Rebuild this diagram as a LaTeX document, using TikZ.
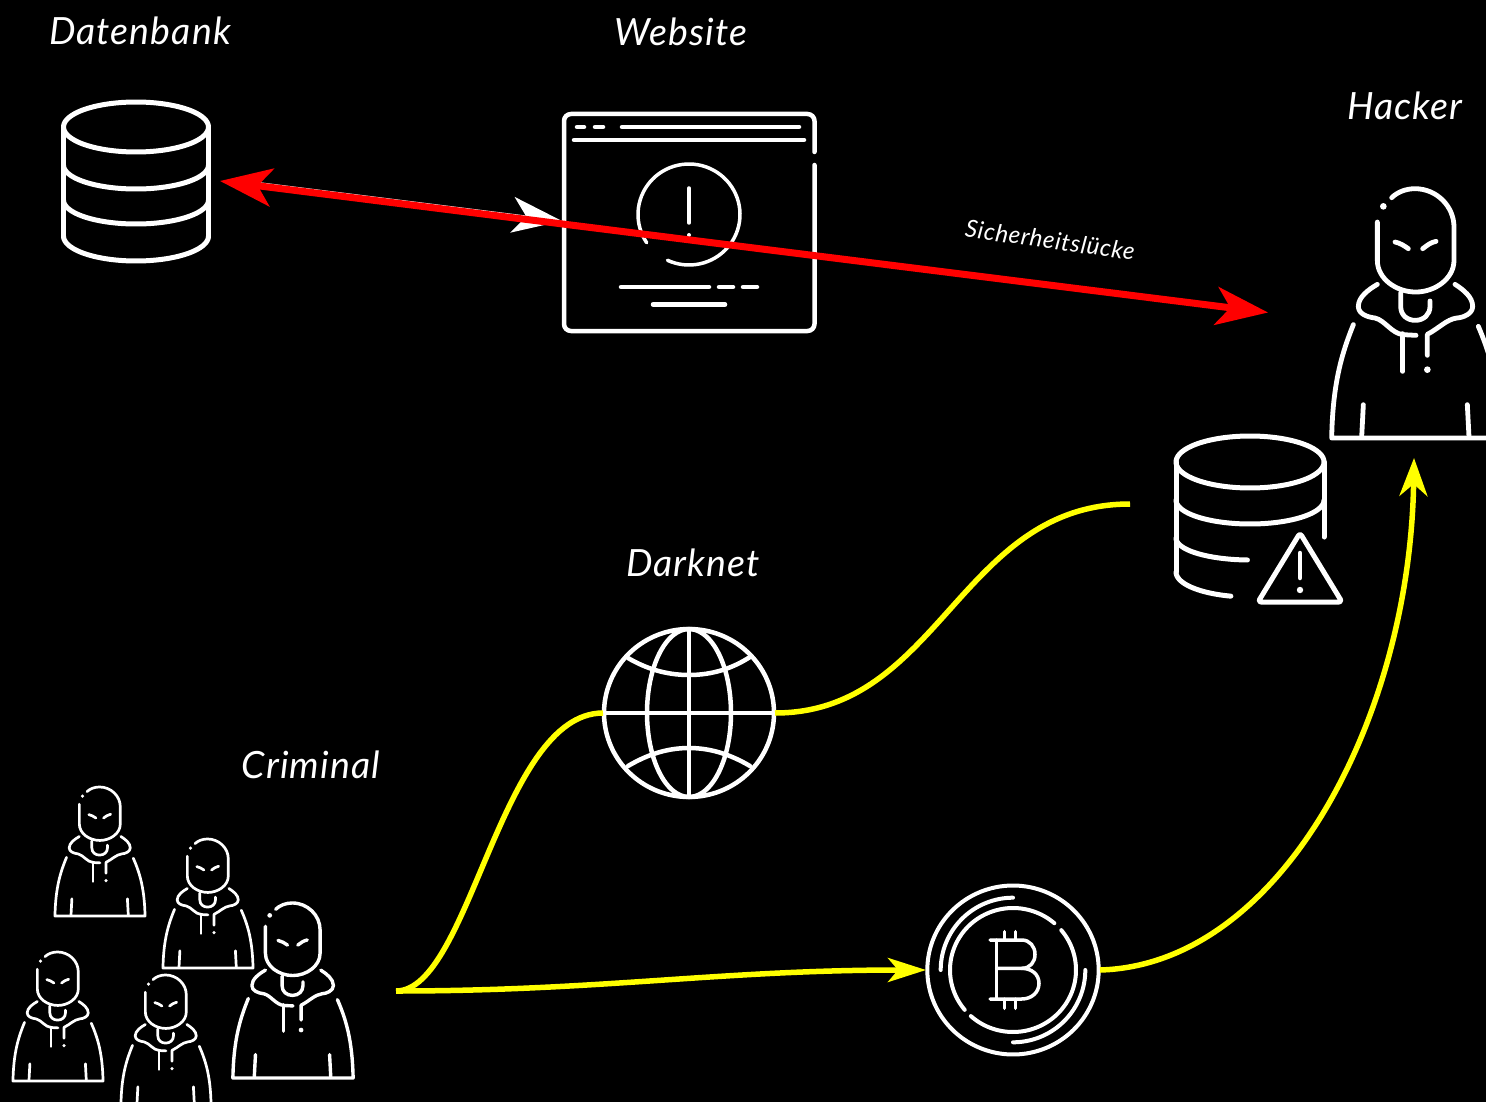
\documentclass[tikz,border=0pt]{standalone}
\usepackage{fontspec}
\setmainfont{Lato}
\newfontfamily\hand[LetterSpace=3]{Lato Italic}
\usetikzlibrary{arrows.meta}
\definecolor{pureyellow}{RGB}{255,255,0}
\definecolor{purered}{RGB}{255,0,0}
\newcommand{\elarc}[6]{plot[domain=#5:#6,samples=72,smooth] ({#1+#3*cos(\x)},{#2+#4*sin(\x)})}
\tikzset{
  icon/.style={draw=white,line cap=round,line join=round,fill=none},
  ghost/.style={draw=none,fill=none,inner sep=0pt,outer sep=0pt},
  handlabel/.style={text=white,inner sep=0pt,font=\hand\fontsize{37.5}{40}\selectfont},
  yellowline/.style={draw=pureyellow,line width=5.5pt,line cap=butt},
  yellowhead/.style={-{Stealth[length=38pt,width=28pt,inset=12pt]}},
}
\newcommand{\person}[5]{%
  \begin{scope}[shift={(#1,#2)},xscale=#3,yscale=#4,shift={(-288,-803)}]
    \draw[icon,line width=#5]
      (215,82) .. controls (232,65) and (258,55) .. (285,55)
      .. controls (350,55) and (402,108) .. (402,170) -- (402,270)
      .. controls (402,325) and (345,365) .. (287,365)
      .. controls (228,365) and (172,325) .. (172,270) -- (172,155);
    \fill[white] (190,108) circle[radius=10];
    \draw[icon,line width=#5] (225,215) .. controls (240,218) and (252,226) .. (265,235);
    \draw[icon,line width=#5] (348,213) .. controls (332,216) and (320,226) .. (308,235);
    \draw[icon,line width=#5]
      (172,342) .. controls (145,358) and (115,380) .. (115,408)
      .. controls (115,430) and (140,440) .. (165,443)
      .. controls (195,450) and (215,490) .. (250,493) -- (288,495);
    \draw[icon,line width=#5]
      (405,342) .. controls (430,358) and (458,380) .. (458,408)
      .. controls (458,430) and (430,442) .. (410,443)
      .. controls (380,447) and (355,475) .. (322,492) -- (322,555);
    \draw[icon,line width=#5] (248,490) -- (248,603);
    \fill[white] (322,598) circle[radius=10];
    \draw[icon,line width=#5] (242,368) -- (242,408)
      .. controls (242,435) and (262,450) .. (286,450)
      .. controls (312,450) and (330,432) .. (330,408) -- (330,392);
    \draw[icon,line width=#5] (100,463) .. controls (65,550) and (38,640) .. (35,803) -- (541,803)
      .. controls (538,640) and (510,550) .. (475,468);
    \draw[icon,line width=#5] (130,703) -- (125,800);
    \draw[icon,line width=#5] (442,703) -- (447,800);
  \end{scope}}
\begin{document}
\begin{tikzpicture}[x=1pt,y=-1pt]
\clip (0,0) rectangle (1486,1102);
\fill[black] (0,0) rectangle (1486,1102);

% database
\draw[icon,line width=5pt] \elarc{136}{127}{72.5}{25}{0}{360};
\draw[icon,line width=5pt] (63.5,127) -- (63.5,236) (208.5,127) -- (208.5,236);
\draw[icon,line width=5pt] \elarc{136}{165}{72.5}{24}{0}{180};
\draw[icon,line width=5pt] \elarc{136}{200}{72.5}{24}{0}{180};
\draw[icon,line width=5pt] \elarc{136}{236}{72.5}{25}{0}{180};

% website
\draw[icon,line width=4.5pt,rounded corners=7pt] (814.5,152) -- (814.5,114) -- (564,114) -- (564,331) -- (814.5,331) -- (814.5,165);
\draw[icon,line width=4.5pt] (577,127) -- (584,127) (595,127) -- (603,127) (622,127) -- (799,127) (574,140) -- (804,140);
\draw[icon,line width=3.5pt] \elarc{689}{214.5}{51}{50.5}{146}{475};
\draw[icon,line width=3.5pt] (689,188) -- (689,223);
\fill[white] (689,235) circle[radius=2];
\draw[icon,line width=4.5pt] (621,287) -- (709,287) (719,287) -- (733,287) (743,287) -- (757,287) (653,304.5) -- (725,304.5);

% leaked database
\draw[icon,line width=5pt] \elarc{1250}{462}{74}{26}{0}{360};
\draw[icon,line width=5pt] (1176,462) -- (1176,572) (1324,462) -- (1324,537);
\draw[icon,line width=5pt] \elarc{1250}{500}{74}{24}{0}{180};
\draw[icon,line width=5pt] \elarc{1250}{538}{74}{22}{92}{180};
\draw[icon,line width=5pt] \elarc{1250}{572}{74}{25}{105}{180};
\draw[icon,line width=5pt,rounded corners=3pt] (1300,533) -- (1342,602) -- (1258,602) -- cycle;
\draw[icon,line width=4.5pt] (1300,553) -- (1300,578);
\fill[white] (1300,590) circle[radius=3.2];

% globe
\node[ghost,circle,minimum size=172pt] (globe) at (689,713) {};
\draw[icon,line width=4.5pt] \elarc{689}{713}{85}{84}{0}{360};
\draw[icon,line width=4.5pt] \elarc{689}{713}{42}{84}{0}{360};
\draw[icon,line width=4.5pt] (689,629) -- (689,797) (604,713) -- (774,713);
\draw[icon,line width=4.5pt] (628,658) .. controls (645,668) and (665,675) .. (689,675) .. controls (713,675) and (733,668) .. (750,657);
\draw[icon,line width=4.5pt] (628,766) .. controls (645,756) and (665,748) .. (689,748) .. controls (713,748) and (733,756) .. (750,766);

% bitcoin
\node[ghost,circle,minimum size=174pt] (btc) at (1013,970) {};
\draw[icon,line width=4pt] \elarc{1013}{970}{85.7}{84.5}{0}{360};
\draw[icon,line width=4pt] \elarc{1013}{970}{72.3}{72.3}{180}{270};
\draw[icon,line width=4pt] \elarc{1013}{970}{72.3}{72.3}{0}{90};
\draw[icon,line width=4pt] \elarc{1013}{970}{63}{62}{-40}{132};
\draw[icon,line width=4pt] \elarc{1013}{970}{63}{62}{140}{311};
\begin{scope}[shift={(915,875)},scale=1/3]
  \draw[icon,line width=3.5pt] (225,195) -- (320,195) .. controls (345,195) and (360,215) .. (360,238)
     .. controls (360,262) and (345,280) .. (320,280) -- (245,280);
  \draw[icon,line width=3.5pt] (320,280) .. controls (350,280) and (372,298) .. (372,325)
     .. controls (372,352) and (350,372) .. (320,372) -- (225,372);
  \draw[icon,line width=3.5pt] (245,195) -- (245,372);
  \draw[icon,line width=3.5pt] (268,170) -- (268,195) (302,170) -- (302,195) (268,372) -- (268,400) (302,372) -- (302,400);
\end{scope}

% people
\person{1416}{438}{0.3333}{0.3333}{4.8pt}
\person{293}{1078}{0.2376}{0.234}{3.4pt}
\person{100}{916}{0.178}{0.1725}{2.7pt}
\person{208}{968}{0.178}{0.1725}{2.7pt}
\person{58}{1081}{0.178}{0.1725}{2.7pt}
\person{166}{1104}{0.178}{0.1725}{2.7pt}

% connector anchors
\coordinate (crowd) at (396,991);
\coordinate (leak) at (1130,504);
\coordinate (hackerIn) at (1414,458);
\coordinate (dbR) at (220,181);
\coordinate (dbW) at (258,183);
\coordinate (webL) at (562,221);
\coordinate (hackerR) at (1268,312.5);

% yellow connectors
\draw[yellowline] (crowd) .. controls (470,991) and (500,713) .. (globe.west);
\draw[yellowline] (globe.east) .. controls (940,713) and (960,504) .. (leak);
\draw[yellowline,-{Stealth[length=38pt,width=24pt,inset=10pt]}] (crowd) .. controls (600,991) and (720,970) .. (btc.west);
\draw[yellowline,yellowhead] (btc.east) .. controls (1280,965) and (1410,720) .. (hackerIn);

% white and red arrows
\draw[white,line width=2pt,-{Stealth[length=50pt,width=36pt,inset=14pt]}] (dbW) -- (webL);
\draw[purered,line width=7pt,{Stealth[length=52pt,width=38pt,inset=14pt]}-{Stealth[length=52pt,width=38pt,inset=14pt]}] (dbR) -- (hackerR);

% labels
\node[handlabel] (lDatenbank) at (140,31) {Datenbank};
\node[handlabel] (lWebsite) at (681,32) {Website};
\node[handlabel] (lHacker) at (1405,106) {Hacker};
\node[handlabel] (lDarknet) at (693,563) {Darknet};
\node[handlabel] (lCriminal) at (311,765) {Criminal};
\node[handlabel,font=\hand\fontsize{24}{28}\selectfont,rotate=-8] (lSicher) at (1050,240) {Sicherheitslücke};
\end{tikzpicture}
\end{document}
